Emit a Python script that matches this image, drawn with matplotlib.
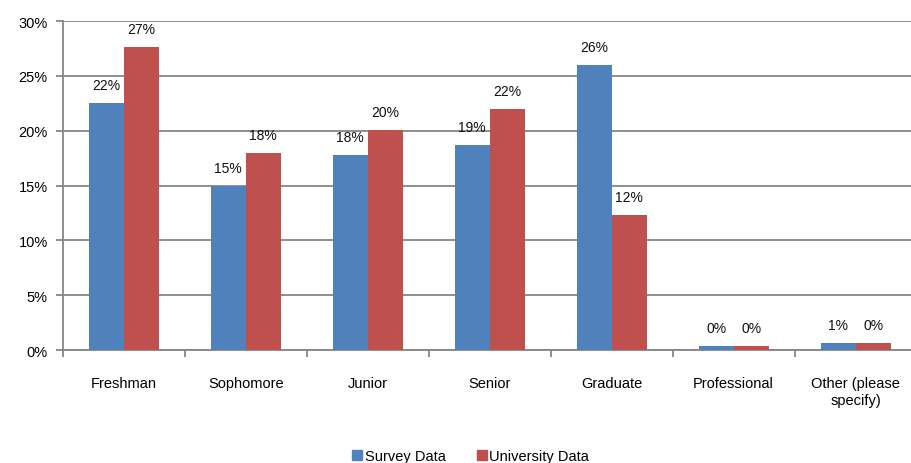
import numpy as np
import matplotlib.pyplot as plt
from matplotlib.lines import Line2D

categories = ['Freshman', 'Sophomore', 'Junior', 'Senior', 'Graduate',
              'Professional', 'Other (please\nspecify)']
survey = [22.5, 14.95, 17.8, 18.7, 26.0, 0.4, 0.6]
university = [27.6, 17.95, 20.1, 22.0, 12.3, 0.4, 0.6]
survey_labels = ['22%', '15%', '18%', '19%', '26%', '0%', '1%']
university_labels = ['27%', '18%', '20%', '22%', '12%', '0%', '0%']

plt.rcParams['font.family'] = ['Liberation Sans', 'DejaVu Sans']

blue = '#4F81BD'
red = '#C0504D'
grid_c = '#868686'

fig = plt.figure(figsize=(9.12, 4.64), dpi=100)
ax = fig.add_axes([0.069, 0.2435, 0.936, 0.709])

x = np.arange(len(categories))
w = 0.287
ax.bar(x - w / 2, survey, w, color=blue, zorder=3)
ax.bar(x + w / 2, university, w, color=red, zorder=3)

for i in range(len(categories)):
    ax.text(x[i] - w / 2, survey[i] + 1.0, survey_labels[i], ha='center', va='bottom', fontsize=10, color='#111111')
    ax.text(x[i] + w / 2, university[i] + 1.0, university_labels[i], ha='center', va='bottom', fontsize=10, color='#111111')

ax.set_xlim(-0.5, len(categories) - 0.5)
ax.set_ylim(0, 30)
ax.set_yticks(range(0, 31, 5))
ax.set_yticklabels([f'{v}%' for v in range(0, 31, 5)], fontsize=10.5)
ax.yaxis.grid(True, color=grid_c, linewidth=1.3, zorder=0)

ax.set_xticks(np.arange(-0.5, len(categories), 1.0))
ax.set_xticklabels([])
ax.set_xticks(x, minor=True)
ax.set_xticklabels(categories, minor=True, fontsize=10.5, va='top')
ax.tick_params(axis='x', which='minor', length=0, pad=19)
ax.tick_params(axis='x', which='major', length=5, color=grid_c, width=1.3)
ax.tick_params(axis='y', length=5, color=grid_c, width=1.3, pad=6)

for s in ['top', 'right']:
    ax.spines[s].set_visible(False)
for s in ['left', 'bottom']:
    ax.spines[s].set_color(grid_c)
    ax.spines[s].set_linewidth(1.3)

handles = [Line2D([], [], marker='s', linestyle='', color=blue, markersize=7),
           Line2D([], [], marker='s', linestyle='', color=red, markersize=7)]
fig.legend(handles, ['Survey Data', 'University Data'], loc='center',
           bbox_to_anchor=(0.515, 0.015), ncol=2, frameon=False, fontsize=10.5,
           handletextpad=0.0, columnspacing=2.0, handlelength=1.0)

fig.savefig('out.png', dpi=100)
